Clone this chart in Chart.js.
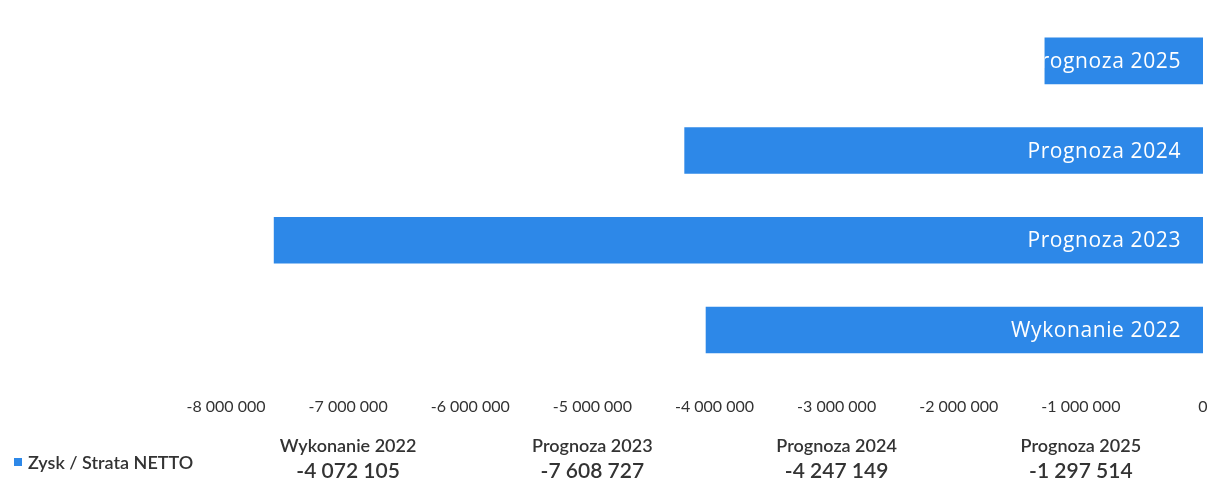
<!DOCTYPE html>
<html lang="pl">
<head>
<meta charset="utf-8">
<title>Zysk / Strata NETTO</title>
<script src="https://cdn.jsdelivr.net/npm/chart.js@4.4.1/dist/chart.umd.min.js"></script>
<style>
    html, body { margin: 0; padding: 0; background: #fff; overflow: hidden; }
    canvas { display: block; }
</style>
</head>
<body>
<canvas id="profitChart" width="1210" height="495"></canvas>
<script>
    // Dane: wynik netto w kolejnych latach
    var categories = ['Wykonanie 2022', 'Prognoza 2023', 'Prognoza 2024', 'Prognoza 2025'];
    var netResult = [-4072105, -7608727, -4247149, -1297514];
    var seriesName = 'Zysk / Strata NETTO';
    var tickValues = [-8000000, -7000000, -6000000, -5000000, -4000000, -3000000, -2000000, -1000000, 0];

    var barColor = '#2d88e8';
    var textFont = "Lato, 'Open Sans', sans-serif";

    function fmt(v) {
        var s = Math.abs(v).toString().replace(/\B(?=(\d{3})+(?!\d))/g, ' ');
        return (v < 0 ? '-' : '') + s;
    }

    // Category names written inside each bar, clipped to the bar
    var barLabels = {
        id: 'barLabels',
        afterDatasetsDraw: function (chart) {
            var ctx = chart.ctx;
            var meta = chart.getDatasetMeta(0);
            meta.data.forEach(function (bar, i) {
                var left = Math.min(bar.x, bar.base);
                var right = Math.max(bar.x, bar.base);
                var top = bar.y - bar.height / 2;
                ctx.save();
                ctx.beginPath();
                ctx.rect(left, top, right - left, bar.height);
                ctx.clip();
                ctx.fillStyle = '#ffffff';
                ctx.font = "21px 'Open Sans', sans-serif";
                ctx.letterSpacing = '0.6px';
                ctx.textAlign = 'right';
                ctx.textBaseline = 'middle';
                ctx.fillText(chart.data.labels[i], right - 22, bar.y + 1);
                ctx.restore();
            });
        }
    };

    // Data table under the axis
    var dataTable = {
        id: 'dataTable',
        afterDraw: function (chart) {
            var ctx = chart.ctx;
            var area = chart.chartArea;
            var colW = (area.right - area.left) / categories.length;
            ctx.save();
            ctx.fillStyle = '#333';
            ctx.textBaseline = 'middle';
            ctx.textAlign = 'center';
            categories.forEach(function (c, i) {
                var cx = area.left + colW * (i + 0.5);
                ctx.font = '600 18px ' + textFont;
                ctx.fillText(c, cx, 446);
                ctx.font = '600 21px ' + textFont;
                ctx.fillText(fmt(netResult[i]), cx, 471);
            });
            ctx.fillStyle = barColor;
            ctx.fillRect(14, 458, 8, 8);
            ctx.fillStyle = '#333';
            ctx.textAlign = 'left';
            ctx.font = '600 18px ' + textFont;
            ctx.fillText(seriesName, 28, 463);
            ctx.restore();
        }
    };

    var ctx = document.getElementById('profitChart').getContext('2d');
    var profitChart = new Chart(ctx, {
        type: 'bar',
        data: {
            labels: categories,
            datasets: [{
                label: seriesName,
                data: netResult,
                backgroundColor: barColor,
                borderWidth: 0,
                barPercentage: 0.52,
                categoryPercentage: 1
            }]
        },
        options: {
            indexAxis: 'y',
            responsive: false,
            animation: false,
            layout: {
                padding: { left: 226, right: 7, top: 16, bottom: 57 }
            },
            scales: {
                x: {
                    min: tickValues[0],
                    max: tickValues[tickValues.length - 1],
                    afterBuildTicks: function (axis) {
                        axis.ticks = tickValues.map(function (v) { return { value: v }; });
                    },
                    // the tick padding is only meant to be vertical here
                    afterFit: function (axis) {
                        axis.paddingLeft = 0;
                        axis.paddingRight = 0;
                    },
                    grid: { display: false, drawTicks: false },
                    border: { display: false },
                    ticks: {
                        padding: 22,
                        maxRotation: 0,
                        color: '#333',
                        font: { family: textFont, size: 16 },
                        callback: function (v) { return fmt(v); }
                    }
                },
                y: {
                    reverse: true,
                    display: false
                }
            },
            plugins: {
                legend: { display: false },
                tooltip: { enabled: false }
            }
        },
        plugins: [barLabels, dataTable]
    });
</script>
</body>
</html>
